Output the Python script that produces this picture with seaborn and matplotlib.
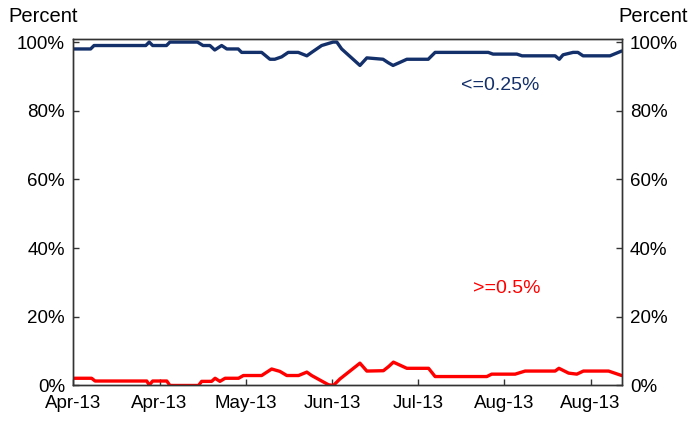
import matplotlib
matplotlib.use("Agg")
import matplotlib.pyplot as plt
import matplotlib.dates as mdates
import numpy as np
import pandas as pd
import seaborn as sns

# dias desde el 1 de abril de 2013 y porcentaje en cada vertice
start = pd.Timestamp("2013-04-01")

low_days = [0, 5, 6, 21, 22, 23, 27, 28, 36, 37.6, 39.6, 41, 43, 44.5, 47.8, 48.8,
            54.6, 57, 58.4, 60.4, 62.3, 65.2, 67.7, 69.1, 72, 75.3, 76.4, 77.8,
            83.1, 85.1, 89.8, 91.3, 92.7, 94.5, 96.7, 102.9, 104.9, 120.3, 121.7,
            128.6, 130.1, 139.7, 140.9, 142, 144.9, 146.3, 147.8, 155.6, 159]
low_vals = [98, 98, 99, 99, 100, 99, 99, 100, 100, 99, 99, 97.7, 99, 98, 98, 97,
            97, 95, 95, 95.7, 97, 97, 96, 97, 99, 100, 100, 98,
            93.2, 95.4, 95, 94, 93.2, 94, 95, 95, 97, 97, 96.5,
            96.5, 96, 96, 95, 96.3, 97, 97, 96, 96, 97.4]

high_days = [0, 5.3, 6.3, 21.3, 22, 23, 27.1, 28, 36.3, 37.2, 40.1, 41.1, 42.5, 44,
             47.9, 49.3, 54.6, 57.5, 59.9, 61.9, 65.3, 67.7, 69.1, 74, 75.4, 77.3,
             83.1, 85.1, 89.9, 91.4, 92.8, 96.7, 103, 104.9, 119.9, 121.3, 128.1,
             131, 139.7, 140.8, 143.6, 146, 147.9, 155.2, 159]
high_vals = [2.1, 2.1, 1.3, 1.3, 0.1, 1.3, 1.3, 0, 0, 1.2, 1.2, 2.1, 1.2, 2.1,
             2.1, 2.9, 2.9, 4.8, 4.1, 2.9, 2.9, 3.9, 2.9, 0.2, 0, 1.9,
             6.5, 4.2, 4.3, 5.5, 6.8, 5, 5, 2.6, 2.6, 3.3, 3.3,
             4.2, 4.2, 5, 3.6, 3.3, 4.2, 4.2, 2.9]

series_names = ["<=0.25%", ">=0.5%"]
tick_days = [0, 25, 50, 75, 100, 125, 150]
y_ticks = [0, 20, 40, 60, 80, 100]

df = pd.concat([
    pd.DataFrame({"fecha": start + pd.to_timedelta(low_days, unit="D"),
                  "valor": low_vals, "serie": series_names[0]}),
    pd.DataFrame({"fecha": start + pd.to_timedelta(high_days, unit="D"),
                  "valor": high_vals, "serie": series_names[1]}),
])

sns.set_theme(style="ticks")
plt.rcParams['font.family'] = ['Liberation Sans', 'DejaVu Sans']
plt.rcParams['text.color'] = 'black'

colores = {series_names[0]: "#14306B", series_names[1]: "#FF0000"}

fig = plt.figure(figsize=(6.92, 4.23), dpi=100)
ax = fig.add_axes([0.106, 0.0887, 0.7924, 0.8183])

sns.lineplot(data=df, x="fecha", y="valor", hue="serie", palette=colores,
             linewidth=2.4, legend=False, ax=ax, estimator=None, sort=False)

ax.set_xlim(start, start + pd.Timedelta(days=159))
ax.set_ylim(0, 100.8)
ax.set_xticks(start + pd.to_timedelta(tick_days, unit="D"))
ax.xaxis.set_major_formatter(mdates.DateFormatter("%b-%y"))
ax.set_yticks(y_ticks)
ax.set_yticklabels([f"{v}%" for v in y_ticks])
ax.set_xlabel("")
ax.set_ylabel("")
ax.tick_params(axis="both", direction="in", length=4, width=1, labelsize=13.5,
               color="#333333", labelcolor="black", pad=6)
ax.tick_params(axis="x", pad=7)

ax2 = ax.twinx()
ax2.set_ylim(ax.get_ylim())
ax2.set_yticks(y_ticks)
ax2.set_yticklabels([f"{v}%" for v in y_ticks])
ax2.tick_params(axis="y", direction="in", length=4, width=1, labelsize=13.5,
                color="#333333", labelcolor="black", pad=6)

for a in (ax, ax2):
    for s in a.spines.values():
        s.set_color("#333333")
        s.set_linewidth(1.0)

ax.text(start + pd.Timedelta(days=123.8), 87.5, series_names[0], color=colores[series_names[0]],
        fontsize=14, ha="center", va="center")
ax.text(start + pd.Timedelta(days=125.8), 28.1, series_names[1], color=colores[series_names[1]],
        fontsize=14, ha="center", va="center")

fig.text(8 / 692, 1 - 17 / 423, "Percent", fontsize=14.5, ha="left", va="center")
fig.text(688 / 692, 1 - 17 / 423, "Percent", fontsize=14.5, ha="right", va="center")

fig.savefig("out.png", dpi=100)
